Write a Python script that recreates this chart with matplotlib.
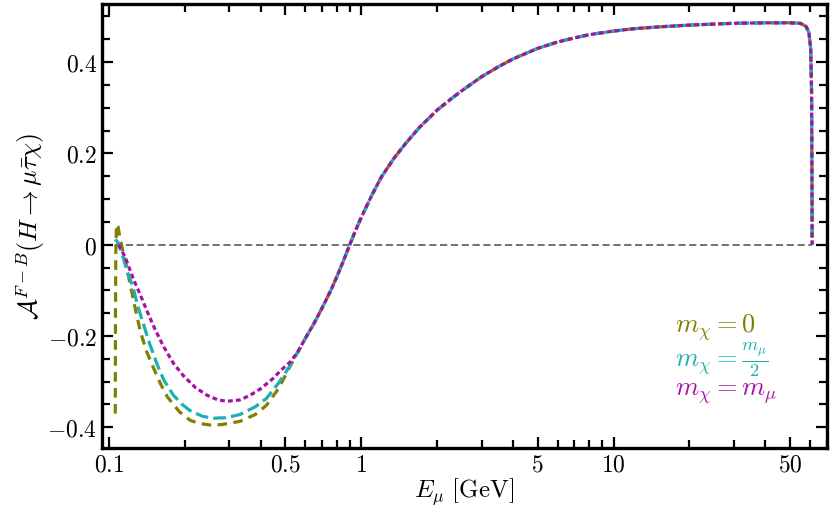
import numpy as np
import matplotlib
matplotlib.use("Agg")
import matplotlib.pyplot as plt
from matplotlib.ticker import FixedLocator, FixedFormatter

plt.rcParams['mathtext.fontset'] = 'cm'

# shared high-energy part (all three curves coincide above ~0.55 GeV)
e_tail = [0.56, 0.6, 0.65, 0.7, 0.757, 0.8, 0.85, 0.9, 0.95, 1.0, 1.1, 1.2, 1.35, 1.5,
          1.7, 2.0, 2.3, 2.5, 3.0, 3.5, 4.0, 5.0, 6.0, 7.0, 8.0, 10.0, 12.0, 15.0, 20.0,
          30.0, 40.0, 50.0, 55.0, 58.0, 59.5, 60.5, 61.0, 61.2, 61.3]
a_tail = [-0.235, -0.205, -0.172, -0.138, -0.1, -0.07, -0.035, 0.0, 0.032, 0.06, 0.108,
          0.148, 0.19, 0.222, 0.257, 0.295, 0.322, 0.337, 0.368, 0.39, 0.407, 0.43, 0.444,
          0.453, 0.46, 0.468, 0.473, 0.477, 0.481, 0.485, 0.486, 0.486, 0.485, 0.478,
          0.465, 0.43, 0.33, 0.15, 0.0]

# m_chi = 0
e_olive = [0.1058, 0.1060, 0.1063, 0.1068, 0.1075, 0.1085, 0.110, 0.113, 0.117, 0.1215,
           0.127, 0.133, 0.141, 0.150, 0.160, 0.170, 0.19, 0.21, 0.23, 0.252, 0.28,
           0.33, 0.38, 0.42, 0.47, 0.52]
a_olive = [-0.37, -0.15, -0.02, 0.03, 0.045, 0.04, 0.02, -0.01, -0.045, -0.09,
           -0.14, -0.19, -0.235, -0.27, -0.305, -0.333, -0.366, -0.385, -0.392, -0.395,
           -0.394, -0.387, -0.372, -0.352, -0.315, -0.268]

# m_chi = m_mu / 2
e_cyan = [0.1058, 0.108, 0.111, 0.114, 0.118, 0.124, 0.130, 0.137, 0.145, 0.155, 0.165,
          0.18, 0.195, 0.21, 0.235, 0.259, 0.29, 0.33, 0.38, 0.42, 0.47, 0.52]
a_cyan = [0.012, 0.006, -0.01, -0.03, -0.06, -0.09, -0.135, -0.175, -0.218, -0.262, -0.297,
          -0.33, -0.35, -0.364, -0.376, -0.38, -0.379, -0.372, -0.355, -0.337, -0.303, -0.266]

# m_chi = m_mu
e_mag = [0.109, 0.112, 0.116, 0.120, 0.125, 0.133, 0.142, 0.152, 0.164, 0.18, 0.197,
         0.22, 0.245, 0.27, 0.294, 0.33, 0.362, 0.40, 0.447, 0.48, 0.52]
a_mag = [0.0, -0.012, -0.028, -0.05, -0.076, -0.11, -0.148, -0.185, -0.222, -0.26, -0.287,
         -0.313, -0.33, -0.34, -0.343, -0.34, -0.33, -0.315, -0.293, -0.275, -0.258]

# zero reference line, drawn over the kinematic range only
e_zero = [0.1058, 61.3]
a_zero = [0.0, 0.0]

x_ticks = [0.1, 0.5, 1, 5, 10, 50]
x_labels = ['$0.1$', '$0.5$', '$1$', '$5$', '$10$', '$50$']
y_ticks = [-0.4, -0.2, 0.0, 0.2, 0.4]
y_labels = ['$-0.4$', '$-0.2$', '$0$', '$0.2$', '$0.4$']

c_olive = '#808000'
c_cyan = '#1cb0b0'
c_mag = '#a80fa8'

fig = plt.figure(figsize=(8.3, 5.13), dpi=100)
ax = fig.add_axes([0.123, 0.127, 0.873, 0.865])

ax.plot(e_zero, a_zero, color='#666666', lw=1.3, ls=(0, (4, 2)), zorder=1)

ax.plot(e_olive + e_tail, a_olive + a_tail, color=c_olive, lw=2.3, ls=(0, (3, 2)), zorder=2)
ax.plot(e_cyan + e_tail, a_cyan + a_tail, color=c_cyan, lw=2.3, ls=(0, (4, 1.6)), zorder=3)
ax.plot(e_mag + e_tail, a_mag + a_tail, color=c_mag, lw=2.3, ls=(0, (1.5, 1)), zorder=4)

ax.set_xscale('log')
ax.set_xlim(0.0938, 70)
ax.set_ylim(-0.445, 0.527)

ax.xaxis.set_major_locator(FixedLocator(x_ticks))
ax.xaxis.set_major_formatter(FixedFormatter(x_labels))
minors = [m * d for d in (0.1, 1, 10) for m in range(2, 10) if m != 5]
ax.xaxis.set_minor_locator(FixedLocator(minors))
ax.xaxis.set_minor_formatter(FixedFormatter([''] * len(minors)))
ax.yaxis.set_major_locator(FixedLocator(y_ticks))
ax.yaxis.set_major_formatter(FixedFormatter(y_labels))
ax.yaxis.set_minor_locator(FixedLocator(np.arange(-0.45, 0.55, 0.05)))

ax.tick_params(which='both', direction='in', top=True, right=True, labelsize=17, width=1.6)
ax.tick_params(which='major', length=8)
ax.tick_params(which='minor', length=5.5)
for s in ax.spines.values():
    s.set_linewidth(2.4)

ax.set_xlabel(r'$E_\mu\ [\mathrm{GeV}]$', fontsize=18, labelpad=0)
ax.set_ylabel(r'$\mathcal{A}^{F-B}(H\rightarrow\mu\bar{\tau}\chi)$', fontsize=18.5, labelpad=0)

ax.text(0.79, 0.272, r'$m_\chi=0$', color=c_olive, fontsize=19, transform=ax.transAxes, va='center')
ax.text(0.79, 0.198, r'$m_\chi=\frac{m_\mu}{2}$', color=c_cyan, fontsize=19, transform=ax.transAxes, va='center')
ax.text(0.79, 0.124, r'$m_\chi=m_\mu$', color=c_mag, fontsize=19, transform=ax.transAxes, va='center')

fig.savefig('out.png', dpi=100)
